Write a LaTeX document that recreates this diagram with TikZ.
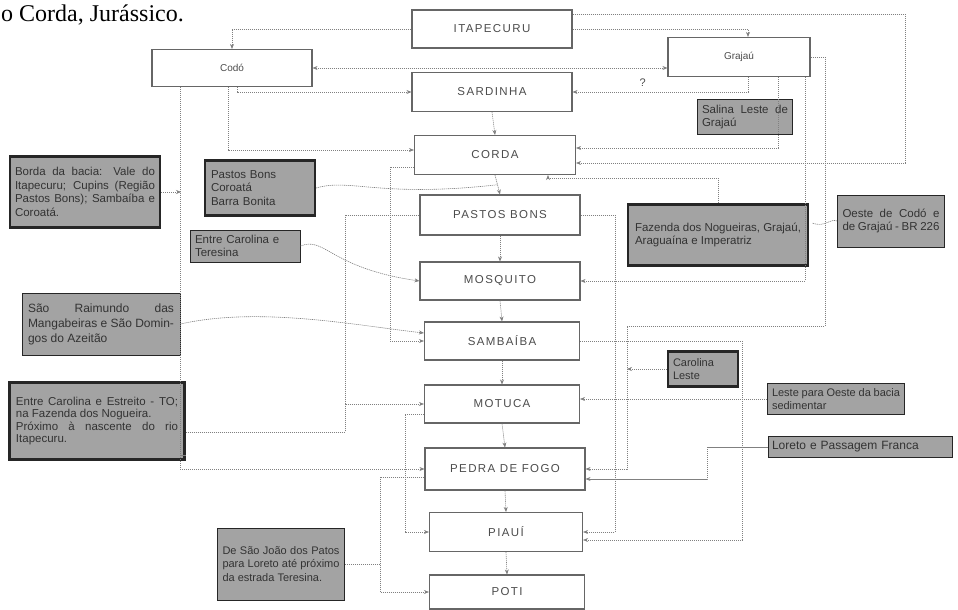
\documentclass[tikz,border=0pt]{standalone}
\usepackage{fontspec}
\setmainfont{Liberation Serif}
\setsansfont{Liberation Sans}
\newfontfamily\boxfont[LetterSpace=12]{Liberation Sans}
\usetikzlibrary{arrows.meta,calc}
\begin{document}
\begin{tikzpicture}[x=1pt,y=-1pt,
  mainbox/.style={draw=black!60, line width=1.1pt, fill=white, text=black!70,
    font=\boxfont\fontsize{11.5}{13}\selectfont, inner sep=0pt},
  lowbox/.style={mainbox, font=\sffamily\fontsize{10}{12}\selectfont},
  graybox/.style={draw=black!85, line width=0.9pt, fill=black!36, text=black!80,
    font=\sffamily\fontsize{11.5}{13.5}\selectfont, inner sep=0pt, align=justify},
  heavy/.style={line width=2.2pt},
  conn/.style={draw=black!50, line width=0.6pt, dash pattern=on 1.2pt off 0.8pt},
  arr/.style={conn, -{Stealth[length=5pt,width=4pt]}},
  darr/.style={conn, {Stealth[length=5pt,width=4pt]}-{Stealth[length=5pt,width=4pt]}}
]
\useasboundingbox (0,0) rectangle (958,610);

% page caption fragment
\node[anchor=base west, inner sep=0pt, font=\rmfamily\fontsize{24}{28}\selectfont] (cap) at (1,22) {o Corda, Jurássico.};

% main stratigraphic units
\node[mainbox, minimum width=160, minimum height=38] (itap) at (492,29) {ITAPECURU};
\node[lowbox, minimum width=160, minimum height=37] (codo) at (232,68) {Codó};
\node[lowbox, minimum width=142, minimum height=39] (grajau) at (739,57) {Grajaú};
\node[mainbox, minimum width=160, minimum height=39] (sard) at (492,92) {SARDINHA};
\node[mainbox, minimum width=161, minimum height=39] (corda) at (495,155) {CORDA};
\node[mainbox, minimum width=160, minimum height=40] (pastos) at (500,215) {PASTOS BONS};
\node[mainbox, minimum width=160, minimum height=38] (mosq) at (500,281) {MOSQUITO};
\node[mainbox, minimum width=155, minimum height=38] (samb) at (502,341) {SAMBAÍBA};
\node[mainbox, minimum width=155, minimum height=38] (motu) at (502,404) {MOTUCA};
\node[mainbox, minimum width=160, minimum height=42] (pedra) at (505,469) {PEDRA DE FOGO};
\node[mainbox, minimum width=153, minimum height=39] (piaui) at (506,532) {PIAUÍ};
\node[mainbox, minimum width=155, minimum height=34] (poti) at (507,592) {POTI};

% grey locality boxes
\node[graybox, heavy, minimum width=150, minimum height=71, text width=140] (gA) at (85,192)
  {Borda da bacia: Vale do Itapecuru; Cupins (Região Pastos Bons); Sambaíba e Coroatá.};
\node[graybox, heavy, minimum width=110, minimum height=55, text width=98, align=left] (gB) at (260,188)
  {Pastos Bons\\Coroatá\\Barra Bonita};
\node[graybox, minimum width=110, minimum height=32, text width=100, align=left] (gC) at (245,246)
  {Entre Carolina e Teresina};
\node[graybox, minimum width=158, minimum height=62, text width=146,
  font=\sffamily\fontsize{12}{15}\selectfont] (gD) at (101,324)
  {São Raimundo das Mangabeiras e São Domingos do Azeitão};
\node[graybox, heavy, minimum width=175, minimum height=77, text width=162,
  font=\sffamily\fontsize{11.5}{12.5}\selectfont] (gE) at (97,421)
  {Entre Carolina e Estreito - TO; na Fazenda dos Nogueira.\\Próximo à nascente do rio Itapecuru.};
\node[graybox, minimum width=95, minimum height=35, text width=86] (gH) at (745,117)
  {Salina Leste de Grajaú};
\node[graybox, heavy, minimum width=180, minimum height=61, text width=166] (gF) at (718,235)
  {Fazenda dos Nogueiras, Grajaú, Araguaína e Imperatriz};
\node[graybox, minimum width=107, minimum height=52, text width=97] (gG) at (891,221)
  {Oeste de Codó e de Grajaú - BR 226};
\node[graybox, heavy, minimum width=70, minimum height=35, text width=60, align=left,
  font=\sffamily\fontsize{11}{13}\selectfont] (gI) at (703,369)
  {Carolina Leste};
\node[graybox, minimum width=137, minimum height=31, text width=128,
  font=\sffamily\fontsize{11}{13}\selectfont] (gJ) at (836,399)
  {Leste para Oeste da bacia sedimentar};
\node[graybox, minimum width=184, minimum height=21, text width=176, align=left,
  font=\sffamily\fontsize{12}{13}\selectfont] (gK) at (860,447)
  {Loreto e Passagem Franca};
\node[graybox, minimum width=127, minimum height=72, text width=117,
  font=\sffamily\fontsize{11}{13.5}\selectfont] (gL) at (281,564)
  {De São João dos Patos para Loreto até próximo da estrada Teresina.};

% helper coordinates
\coordinate (vA) at (181,192);
\coordinate (r1) at (905,163);
\coordinate (r2) at (825,326);
\coordinate (r3) at (627,469);
\coordinate (p1) at (615,532);
\coordinate (l1) at (390,341);
\coordinate (m1) at (345,404);
\coordinate (b1) at (380,592);
\coordinate (n1) at (405,532);
\coordinate (s1) at (742,540);
\coordinate (vG) at (812,223);

% connectors among units
\draw[arr] (itap.west) -| (codo.north);
\draw[darr] (codo.east) -- (codo.east -| grajau.west);
\draw[arr] ([xshift=5pt]codo.south) |- (sard.west);
\draw[arr] (itap.east) -| ([xshift=9pt]grajau.north);
\draw[arr] ([xshift=9pt]grajau.south) |- (sard.east) node[pos=0.8, above=2pt, font=\sffamily\fontsize{11}{12}\selectfont, text=black!70] (q) {?};
\draw[arr] (sard.south) -- (corda.north);
\draw[arr] ([yshift=-5pt]itap.north east) -| (r1) -- (r1 -| corda.east);
\draw[arr] ([xshift=39pt]grajau.south) |- ([yshift=7pt]corda.east);
\draw[arr] ([xshift=-4pt]codo.south) |- ([yshift=5pt]corda.west);
\draw[arr] ([xshift=-52pt]codo.south) |- (pedra.west);
\draw[arr] (corda.south) -- (pastos.north);
\draw[arr] (pastos.south) -- (mosq.north);
\draw[arr] (mosq.south) -- (samb.north);
\draw[arr] (samb.south) -- (motu.north);
\draw[arr] (motu.south) -- (pedra.north);
\draw[arr] (pedra.south) -- (piaui.north);
\draw[arr] (piaui.south) -- (poti.north);
\draw[arr] ([xshift=66pt]grajau.south) |- (mosq.east);
\draw[arr] (grajau.east) -| (r2) -| (r3) -- (pedra.east);
\draw[arr] (pastos.east) -| (p1) -- (piaui.east);
\draw[arr] (samb.east) -| (s1) -- ([yshift=-8pt]piaui.east);
\draw[arr] ([yshift=-12pt]corda.west) -| (l1) -- (samb.west);
\draw[arr] (pastos.west) -| (m1) -- (motu.west);
\draw[arr] ([yshift=-8pt]pedra.west) -| (b1) -- (poti.west);
\draw[arr] ([yshift=-10pt]motu.west) -| (n1) -- (piaui.west);

% connectors from locality boxes
\draw[arr] (gA.east) -- (vA);
\draw[conn] (gB.east) .. controls (350,178) and (380,198) .. ($(corda.south)!0.5!(pastos.north)$);
\draw[arr] (gC.east) .. controls (325,236) and (330,268) .. (mosq.west);
\draw[arr] (gD.east) .. controls (260,306) and (360,326) .. ([yshift=8pt]samb.west);
\draw[conn] ([yshift=-11pt]gE.east) -| (m1);
\draw[conn] ([yshift=-34pt]gE.east) -- ([yshift=-34pt]gE.east -| vA);
\draw[arr] (gF.north) -- ++(0,-25) -| ([xshift=53pt]corda.south);
\draw[conn] (gG.west) .. controls (830,218) and (825,228) .. (vG);
\draw[arr] (gI.west) -- (gI.west -| r3);
\draw[arr] (gJ.west) -- (gJ.west -| motu.east);
\draw[arr] (gK.west) -- ++(-60,0) |- ([yshift=-10pt]pedra.east);
\draw[conn] (gL.east) -- (gL.east -| b1);
\end{tikzpicture}
\end{document}
